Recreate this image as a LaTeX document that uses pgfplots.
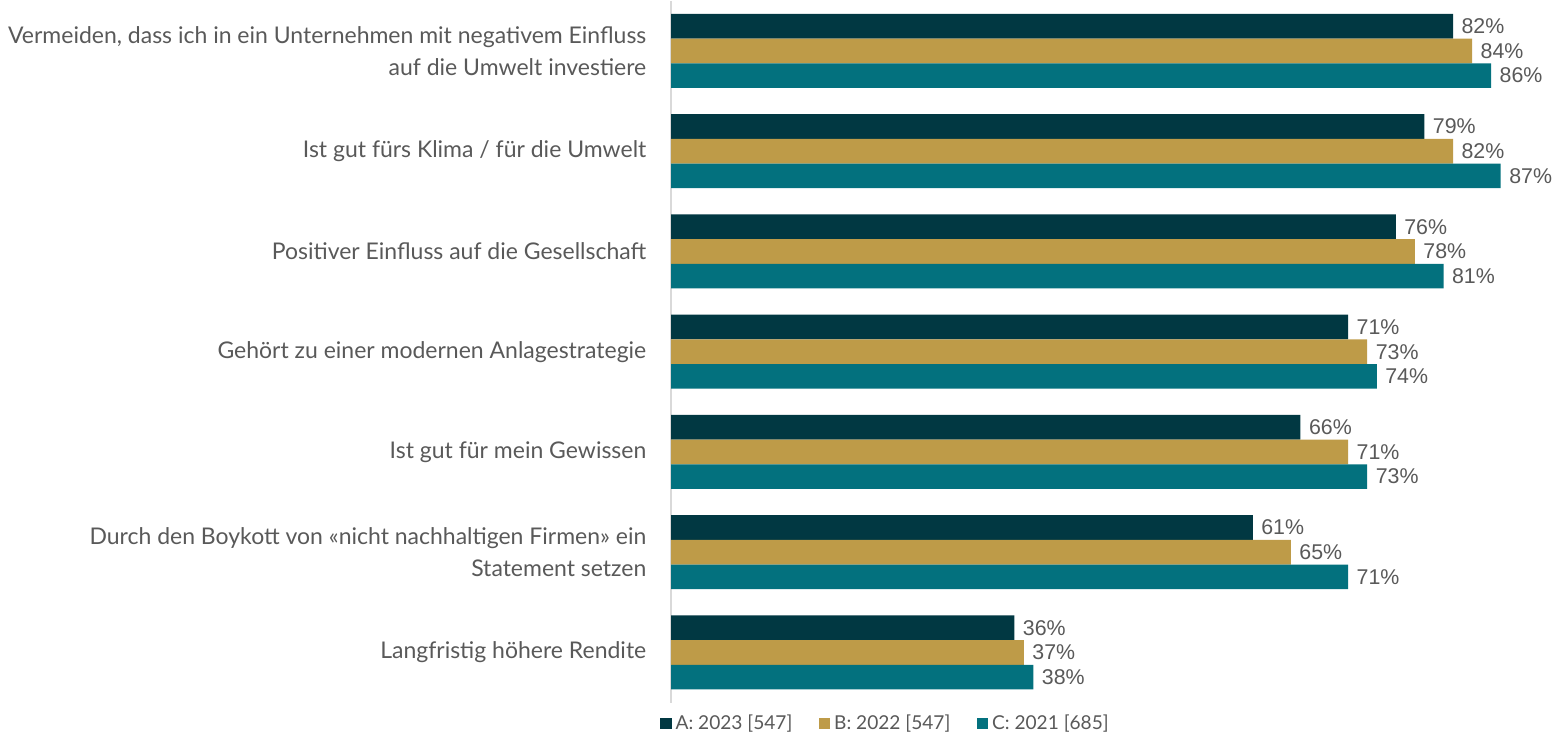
\documentclass[border=0pt]{standalone}
\usepackage{fontspec}
\setmainfont{Lato}
\newfontfamily\valfont{Liberation Sans}
\usepackage{pgfplots}
\pgfplotsset{compat=1.18}
\definecolor{serA}{HTML}{013842}
\definecolor{serB}{HTML}{BE9B48}
\definecolor{serC}{HTML}{03717E}
\definecolor{txt}{HTML}{595959}
\definecolor{axln}{HTML}{D9D9D9}

\begin{document}
\begin{tikzpicture}
\begin{axis}[
  scale only axis, width=436pt, height=345pt,
  xbar, bar width=12.15pt,
  xmin=0, xmax=93, ymin=-0.5, ymax=6.5,
  axis x line=none,
  axis y line=left, y axis line style={draw=axln, line width=0.8pt, -},
  ytick={0,...,6}, major tick length=0pt,
  /pgf/number format/assume math mode=true,
  yticklabels={
    {Langfristig höhere Rendite},
    {Durch den Boykott von «nicht nachhaltigen Firmen» ein\\Statement setzen},
    {Ist gut für mein Gewissen},
    {Gehört zu einer modernen Anlagestrategie},
    {Positiver Einfluss auf die Gesellschaft},
    {Ist gut fürs Klima / für die Umwelt},
    {Vermeiden, dass ich in ein Unternehmen mit negativem Einfluss\\auf die Umwelt investiere}},
  yticklabel style={font=\fontsize{11.3}{16}\selectfont, text=txt, align=right, inner sep=0pt, xshift=-12pt},
  nodes near coords={\pgfmathprintnumber{\pgfplotspointmeta}\%},
  nodes near coords style={font=\valfont\fontsize{10.5}{13}\selectfont, text=txt, anchor=west, xshift=4pt, inner sep=0pt},
  legend columns=3,
  legend style={at={(0.243,-0.03)}, anchor=center, draw=none, fill=none,
    font=\fontsize{9.4}{12}\selectfont, text=txt,
    /tikz/every even column/.append style={column sep=11pt}},
  legend image code/.code={\fill[#1] (0pt,-2.75pt) rectangle (5.5pt,2.75pt);},
]
\addplot[fill=serA, draw=none, bar shift=12.15pt] coordinates {
  (82,6) (79,5) (76,4) (71,3) (66,2) (61,1) (36,0)};
\addplot[fill=serB, draw=none, bar shift=0pt] coordinates {
  (84,6) (82,5) (78,4) (73,3) (71,2) (65,1) (37,0)};
\addplot[fill=serC, draw=none, bar shift=-12.15pt] coordinates {
  (86,6) (87,5) (81,4) (74,3) (73,2) (71,1) (38,0)};
\legend{A: 2023 [547], B: 2022 [547], C: 2021 [685]}
\end{axis}
\path (current bounding box.west) ++(-4pt,0) coordinate (padl);
\path (padl) -- (current bounding box.east);
\end{tikzpicture}
\end{document}
